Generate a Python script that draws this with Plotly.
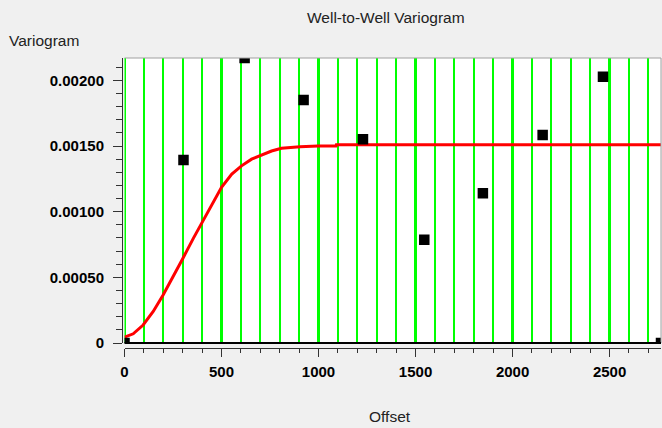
import plotly.graph_objects as go

# experimental variogram points (lag offset, variogram value)
lag_offset = [0, 304, 619, 923, 1229, 1545, 1847, 2155, 2466, 2765]
lag_gamma = [0.0, 0.001394, 0.00217, 0.00185, 0.001551, 0.000786, 0.001141, 0.001584, 0.002027, 0.0]

# fitted model curve
model_offset = [0, 45, 96, 148, 199, 251, 300, 354, 406, 457, 500, 553, 603, 655,
                706, 758, 809, 904, 998, 1090, 1092, 1500, 2000, 2500, 2765]
model_gamma = [0.000045, 0.00007, 0.000137, 0.00024, 0.000365, 0.000503, 0.000642,
               0.000795, 0.000932, 0.00107, 0.001185, 0.001286, 0.001349, 0.0014,
               0.001432, 0.001462, 0.001483, 0.001495, 0.0015, 0.0015, 0.00151,
               0.00151, 0.00151, 0.00151, 0.00151]

x_ticks = [0, 500, 1000, 1500, 2000, 2500]
y_ticks = [0, 0.0005, 0.001, 0.0015, 0.002]
y_tick_text = ["0", "0.00050", "0.00100", "0.00150", "0.00200"]

W, H = 662, 428
ml, mr, mt, mb = 122, 1, 58, 80
pw, ph = W - ml - mr, H - mt - mb

def px(x):
    return (x - ml) / pw

def py(y):
    return (H - mb - y) / ph

tick_font = dict(family="Liberation Sans, Arial", size=15, color="#000000", weight="bold")
label_font = dict(family="Liberation Sans, Arial", size=15.5, color="#222222")

fig = go.Figure()
fig.add_trace(go.Scatter(
    x=model_offset, y=model_gamma, mode="lines",
    line=dict(color="#ff0000", width=3), showlegend=False
))
fig.add_trace(go.Scatter(
    x=lag_offset, y=lag_gamma, mode="markers",
    marker=dict(symbol="square", size=10.5, color="#000000", line=dict(width=0)),
    showlegend=False
))

fig.update_layout(
    width=W, height=H,
    margin=dict(l=ml, r=mr, t=mt, b=mb, pad=0),
    paper_bgcolor="#f0f0f0",
    plot_bgcolor="#ffffff",
    hovermode=False,
    xaxis=dict(
        domain=[2.5 / pw, 1], anchor="free", position=0,
        range=[0, 2765], showline=True, linecolor="#333333", linewidth=1,
        tickmode="array", tickvals=x_ticks, ticktext=[str(v) for v in x_ticks],
        ticks="outside", ticklen=8, tickcolor="#333333",
        showgrid=True, gridcolor="#00ff00", gridwidth=3, zeroline=False,
        tickfont=tick_font, ticklabelstandoff=2,
        minor=dict(tickmode="linear", tick0=0, dtick=100, ticks="outside", ticklen=4,
                   tickcolor="#333333", showgrid=True, gridcolor="#00ff00", gridwidth=1.6),
    ),
    yaxis=dict(
        domain=[5 / ph, 1], anchor="free", position=0,
        range=[0, 0.00217], showline=True, linecolor="#333333", linewidth=1,
        tickmode="array", tickvals=y_ticks, ticktext=y_tick_text,
        ticks="outside", ticklen=9, tickcolor="#333333",
        showgrid=False, zeroline=False,
        tickfont=tick_font, ticklabelstandoff=6,
        minor=dict(tickmode="linear", tick0=0, dtick=0.0001, ticks="outside", ticklen=6,
                   tickcolor="#333333", showgrid=False),
    ),
    shapes=[
        dict(type="line", xref="x", yref="y domain", x0=0, x1=0, y0=0, y1=1,
             line=dict(color="#00ff00", width=3), layer="below"),
        dict(type="line", xref="x domain", yref="y domain", x0=0, x1=1, y0=1, y1=1,
             line=dict(color="#a0a0a0", width=1), layer="above"),
        dict(type="line", xref="x domain", yref="y domain", x0=1, x1=1, y0=0, y1=1,
             line=dict(color="#a0a0a0", width=1), layer="above"),
        dict(type="line", xref="x domain", yref="y domain", x0=0, x1=1, y0=0, y1=0,
             line=dict(color="#000000", width=2), layer="above"),
    ],
    annotations=[
        dict(text="Well-to-Well Variogram", xref="paper", yref="paper",
             x=px(386), y=py(18), xanchor="center", yanchor="middle",
             showarrow=False, font=label_font),
        dict(text="Variogram", xref="paper", yref="paper",
             x=px(7), y=py(40), xanchor="left", yanchor="middle",
             showarrow=False, font=label_font),
        dict(text="Offset", xref="paper", yref="paper",
             x=px(390), y=py(416), xanchor="center", yanchor="middle",
             showarrow=False, font=label_font),
    ],
)

# drop the browser's default page margin so the figure sits at the window corner
fig.write_html("out.html", config={"displayModeBar": False},
               post_script="document.body.style.margin='0px';")
